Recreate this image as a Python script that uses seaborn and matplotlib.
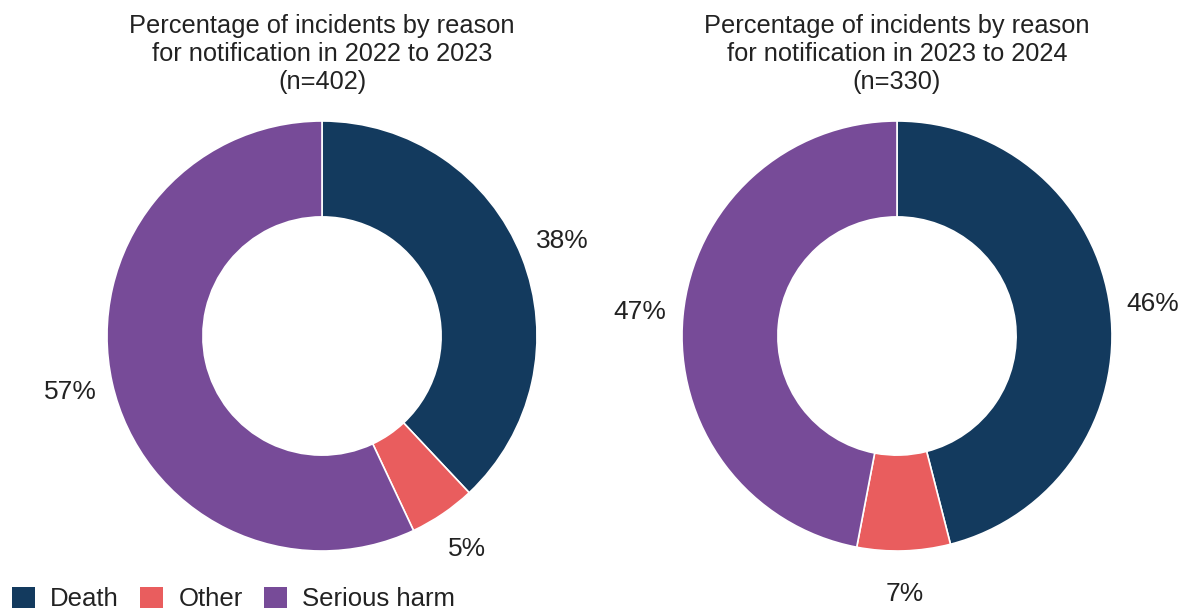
import matplotlib
matplotlib.use("Agg")
import matplotlib.pyplot as plt
from matplotlib.patches import Patch
import seaborn as sns

categories = ["Death", "Other", "Serious harm"]
values_2022_23 = [38, 5, 57]
values_2023_24 = [46, 7, 47]
titles = [
    "Percentage of incidents by reason\nfor notification in 2022 to 2023\n(n=402)",
    "Percentage of incidents by reason\nfor notification in 2023 to 2024\n(n=330)",
]
colors = ["#133A5E", "#E95D5E", "#774B98"]

sns.set_theme(style="white")
plt.rcParams["font.family"] = ["Liberation Sans", "DejaVu Sans"]
text_color = "#222222"

W, H = 1185, 609
fig = plt.figure(figsize=(W / 100, H / 100), dpi=100)

R = 215          # outer radius in pixels
box = 520        # axes box size in pixels
centers = [(322, 336), (897, 336)]
title_baselines = [33, 61, 89]

for (cx, cy), vals, title in zip(centers, [values_2022_23, values_2023_24], titles):
    ax = fig.add_axes([(cx - box / 2) / W, (H - cy - box / 2) / H, box / W, box / H])
    ax.pie(
        vals,
        colors=colors,
        startangle=90,
        counterclock=False,
        radius=1,
        autopct="%.0f%%",
        pctdistance=1.2,
        wedgeprops=dict(width=0.446, edgecolor="white", linewidth=1.2),
        textprops=dict(fontsize=19, color=text_color),
    )
    lim = box / 2 / R
    ax.set_xlim(-lim, lim)
    ax.set_ylim(-lim, lim)
    ax.set_aspect("equal")
    ax.axis("off")
    for line, base in zip(title.split("\n"), title_baselines):
        fig.text(cx / W, 1 - base / H, line, ha="center", va="baseline",
                 fontsize=18.3, color=text_color)

handles = [Patch(facecolor=c, edgecolor="none") for c in colors]
fig.legend(
    handles, categories, loc="lower left", bbox_to_anchor=(7 / W, -0.012),
    ncol=3, frameon=False, fontsize=18.5, handlelength=0.9, handleheight=0.9,
    handletextpad=0.58, columnspacing=0.83, borderaxespad=0.0, borderpad=0.2,
    labelcolor=text_color,
)

fig.savefig("out.png", dpi=100)
